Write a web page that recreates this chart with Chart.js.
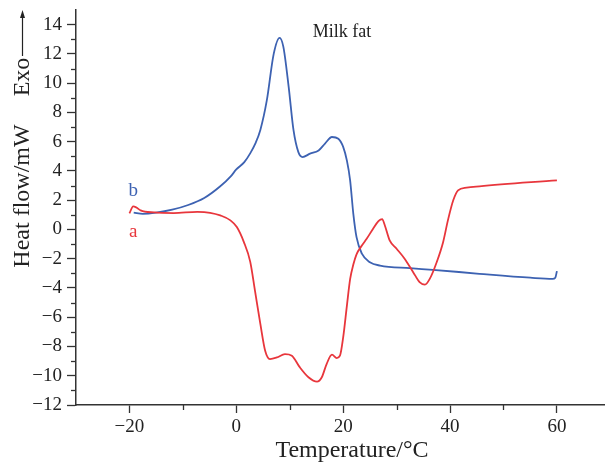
<!DOCTYPE html>
<html>
<head>
<meta charset="utf-8">
<script src="https://cdn.jsdelivr.net/npm/chart.js@4.4.1/dist/chart.umd.min.js"></script>
<style>
    html, body { margin: 0; padding: 0; background: #fff; }
</style>
</head>
<body>
<canvas id="dsc-chart" width="605" height="462"></canvas>
<script>
// curve a (red) - temperature / heat flow
const tempA = [-20, -19.3, -18.7, -17.9, -15.4, -11.7, -7.3, -4.9, -3, -1.1,
    0.1, 1.4, 2.6, 3.5, 4.5, 5.4, 6.3, 7.6, 9.1, 10.4,
    11.9, 13.5, 15.1, 16, 16.9, 17.9, 18.8, 19.4, 20, 20.7,
    21.3, 21.9, 22.5, 23.5, 24.4, 25.6, 26.6, 27.3, 27.8, 28.7,
    30, 31.5, 33.1, 34.3, 35.3, 36.2, 37.5, 38.7, 39.6, 40.6,
    41.5, 43.1, 45.5, 60];
const flowA = [1.1, 1.58, 1.5, 1.3, 1.16, 1.12, 1.2, 1.14, 0.96, 0.62,
    0.16, -0.85, -2.2, -4.2, -6.46, -8.29, -8.86, -8.75, -8.52, -8.63,
    -9.43, -10.1, -10.4, -10.1, -9.2, -8.56, -8.79, -8.63, -7.38, -5.2,
    -3.4, -2.4, -1.7, -1.1, -0.64, 0.05, 0.57, 0.7, 0.27, -0.75,
    -1.32, -2.0, -2.92, -3.6, -3.77, -3.38, -2.24, -0.87, 0.62, 1.99,
    2.67, 2.86, 2.95, 3.36];

// curve b (blue)
const tempB = [-19.2, -17.5, -15, -12, -9, -6, -3, -1, 0, 1.5,
    2.6, 3.6, 4.5, 5.7, 7, 8.1, 8.8, 9.8, 10.7, 11.6,
    12.4, 13.8, 15.4, 16.6, 17.9, 19.1, 20, 20.7, 21.3, 21.9,
    22.5, 23.5, 25, 26.9, 32.5, 36.8, 45.5, 55, 59.2, 59.7,
    60];
const flowB = [1.15, 1.07, 1.15, 1.35, 1.67, 2.15, 2.95, 3.65, 4.1, 4.6,
    5.2, 5.9, 6.8, 8.8, 12.0, 13.1, 12.5, 9.75, 6.8, 5.3,
    4.95, 5.18, 5.4, 5.87, 6.32, 6.2, 5.64, 4.7, 3.36, 1.07,
    -0.53, -1.66, -2.24, -2.47, -2.65, -2.76, -3.03, -3.3, -3.38, -3.3,
    -2.85];

const xTicks = [-20, -10, 0, 10, 20, 30, 40, 50, 60];
const yTicks = [-12, -11, -10, -9, -8, -7, -6, -5, -4, -3, -2, -1, 0, 1, 2, 3, 4, 5, 6, 7, 8, 9, 10, 11, 12, 13, 14];

const red = '#e8363c';
const blue = '#3d62b2';
const axisColor = '#333';
const serif = '"Liberation Serif", "DejaVu Serif", serif';

const toPoints = (xs, ys) => xs.map((t, i) => ({x: t, y: ys[i]}));
const fmt = v => String(v).replace('-', '\u2212');

// chart.js adds label padding around the scales, drop it so the plot area is fixed
function noPadding(scale) {
    scale.paddingTop = 0;
    scale.paddingBottom = 0;
    scale.paddingLeft = 0;
    scale.paddingRight = 0;
}

const labelPlugin = {
    id: 'dscLabels',
    afterDraw(chart) {
        const {ctx, scales: {x, y}} = chart;
        ctx.save();

        // minor ticks (shorter)
        ctx.strokeStyle = axisColor;
        ctx.lineWidth = 1.3;
        x.ticks.forEach(t => {
            if (t.value % 20 !== 0) {
                const px = Math.round(x.getPixelForValue(t.value)) + 0.5;
                ctx.beginPath();
                ctx.moveTo(px, x.top);
                ctx.lineTo(px, x.top + 5);
                ctx.stroke();
            }
        });
        y.ticks.forEach(t => {
            if (t.value % 2 !== 0) {
                const py = Math.round(y.getPixelForValue(t.value)) + 0.5;
                ctx.beginPath();
                ctx.moveTo(y.right, py);
                ctx.lineTo(y.right - 5, py);
                ctx.stroke();
            }
        });

        // curve labels
        ctx.font = '19px ' + serif;
        ctx.textAlign = 'center';
        ctx.textBaseline = 'middle';
        ctx.fillStyle = blue;
        ctx.fillText('b', x.getPixelForValue(-19.3), y.getPixelForValue(2.6));
        ctx.fillStyle = red;
        ctx.fillText('a', x.getPixelForValue(-19.3), y.getPixelForValue(-0.2));

        ctx.fillStyle = '#222';
        ctx.font = '18px ' + serif;
        ctx.fillText('Milk fat', x.getPixelForValue(19.8), y.getPixelForValue(13.5));

        // axis titles
        ctx.font = '24px ' + serif;
        ctx.textBaseline = 'alphabetic';
        ctx.fillText('Temperature/\u00B0C', 352, 457);

        ctx.save();
        ctx.translate(29, 196);
        ctx.rotate(-Math.PI / 2);
        ctx.fillText('Heat flow/mW', 0, 0);
        ctx.restore();
        ctx.save();
        ctx.translate(29, 77);
        ctx.rotate(-Math.PI / 2);
        ctx.fillText('Exo', 0, 0);
        ctx.restore();

        // Exo arrow
        ctx.strokeStyle = '#222';
        ctx.lineWidth = 1.2;
        ctx.beginPath();
        ctx.moveTo(22.5, 56);
        ctx.lineTo(22.5, 16);
        ctx.stroke();
        ctx.beginPath();
        ctx.moveTo(22.5, 10);
        ctx.lineTo(20, 18);
        ctx.lineTo(25, 18);
        ctx.closePath();
        ctx.fill();

        ctx.restore();
    }
};

document.addEventListener("DOMContentLoaded", () => {
    const ctx = document.getElementById("dsc-chart").getContext("2d");
    const myChart = new Chart(ctx, {
        type: 'line',
        data: {
            datasets: [{
                label: 'a',
                data: toPoints(tempA, flowA),
                borderColor: red,
                borderWidth: 1.8,
                pointRadius: 0,
                cubicInterpolationMode: 'monotone',
                fill: false
            }, {
                label: 'b',
                data: toPoints(tempB, flowB),
                borderColor: blue,
                borderWidth: 1.8,
                pointRadius: 0,
                cubicInterpolationMode: 'monotone',
                fill: false
            }]
        },
        options: {
            responsive: false,
            animation: false,
            layout: { padding: { top: 10, right: 0, left: 0, bottom: 0 } },
            plugins: {
                legend: { display: false },
                tooltip: { enabled: false }
            },
            scales: {
                x: {
                    type: 'linear',
                    min: -30,
                    max: 69,
                    afterBuildTicks: scale => { scale.ticks = xTicks.map(v => ({value: v})); },
                    afterFit: scale => { scale.height = 57; noPadding(scale); },
                    ticks: {
                        autoSkip: false,
                        maxRotation: 0,
                        padding: 3,
                        color: '#222',
                        font: { family: serif, size: 19 },
                        callback: v => v % 20 === 0 ? fmt(v) : ''
                    },
                    grid: {
                        drawOnChartArea: false,
                        tickLength: 8,
                        tickWidth: 1.3,
                        tickColor: c => (c.tick && c.tick.value % 20 === 0) ? axisColor : 'rgba(0,0,0,0)'
                    },
                    border: { color: axisColor, width: 1.5 }
                },
                y: {
                    type: 'linear',
                    min: -12,
                    max: 15,
                    afterBuildTicks: scale => { scale.ticks = yTicks.map(v => ({value: v})); },
                    afterFit: scale => { scale.width = 76; noPadding(scale); },
                    ticks: {
                        autoSkip: false,
                        padding: 5,
                        color: '#222',
                        font: { family: serif, size: 19 },
                        callback: v => v % 2 === 0 ? fmt(v) : ''
                    },
                    grid: {
                        drawOnChartArea: false,
                        tickLength: 9,
                        tickWidth: 1.3,
                        tickColor: c => (c.tick && c.tick.value % 2 === 0) ? axisColor : 'rgba(0,0,0,0)'
                    },
                    border: { color: axisColor, width: 1.5 }
                }
            }
        },
        plugins: [labelPlugin]
    });
});
</script>
</body>
</html>
